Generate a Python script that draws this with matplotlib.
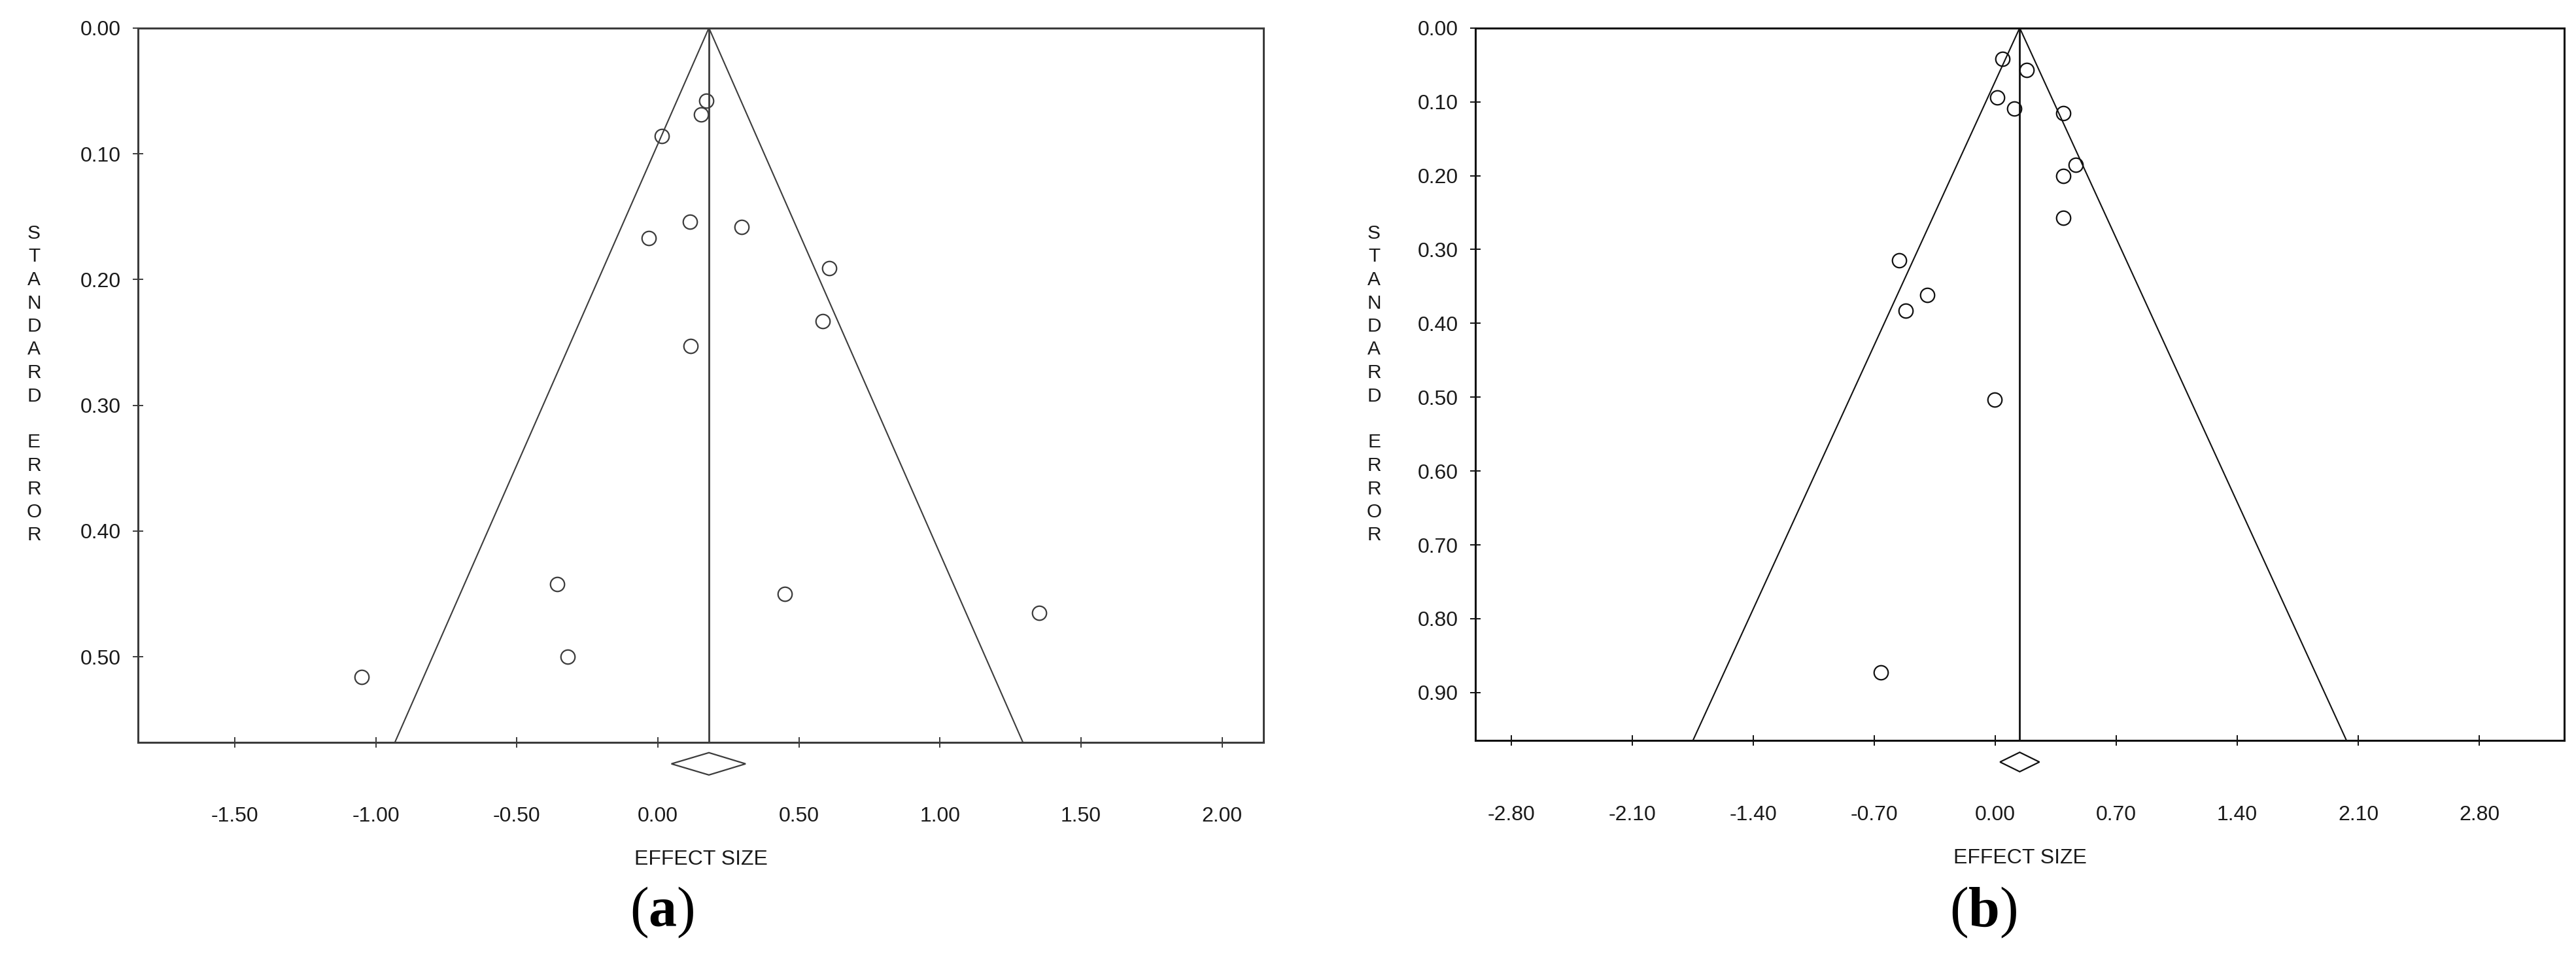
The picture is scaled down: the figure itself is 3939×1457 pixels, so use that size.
import numpy as np
import matplotlib.pyplot as plt
from matplotlib.patches import Polygon
import matplotlib.transforms as mtransforms

plt.rcParams["font.family"] = ["Liberation Sans", "DejaVu Sans"]
plt.rcParams["axes.unicode_minus"] = False
plt.rcParams["mathtext.fontset"] = "custom"
plt.rcParams["mathtext.rm"] = "Liberation Serif"
plt.rcParams["mathtext.bf"] = "Liberation Serif:bold"

# panel (a) - studies: effect size and standard error
a_effect = [0.172, 0.152, 0.013, 0.114, 0.298, -0.032, 0.608, 0.585,
            0.117, -0.357, 0.450, 1.351, -0.319, -1.050]
a_se = [0.058, 0.069, 0.086, 0.154, 0.158, 0.167, 0.191, 0.233,
        0.253, 0.442, 0.450, 0.465, 0.500, 0.516]
a_mean = 0.181
a_ci = (0.048, 0.311)
a_xticks = [-1.5, -1.0, -0.5, 0.0, 0.5, 1.0, 1.5, 2.0]
a_xlabels = ["-1.50", "-1.00", "-0.50", "0.00", "0.50", "1.00", "1.50", "2.00"]
a_yticks = [0.0, 0.1, 0.2, 0.3, 0.4, 0.5]
a_ylabels = ["0.00", "0.10", "0.20", "0.30", "0.40", "0.50"]
a_xlim = (-1.843, 2.147)
a_semax = 0.568

# panel (b)
b_effect = [0.040, 0.182, 0.011, 0.110, 0.393, 0.465, 0.393, 0.393,
            -0.556, -0.394, -0.518, -0.005, -0.661]
b_se = [0.042, 0.057, 0.094, 0.109, 0.115, 0.185, 0.200, 0.257,
        0.315, 0.362, 0.383, 0.503, 0.873]
b_mean = 0.141
b_ci = (0.027, 0.255)
b_xticks = [-2.8, -2.1, -1.4, -0.7, 0.0, 0.7, 1.4, 2.1, 2.8]
b_xlabels = ["-2.80", "-2.10", "-1.40", "-0.70", "0.00", "0.70", "1.40", "2.10", "2.80"]
b_yticks = [0.0, 0.1, 0.2, 0.3, 0.4, 0.5, 0.6, 0.7, 0.8, 0.9]
b_ylabels = ["0.00", "0.10", "0.20", "0.30", "0.40", "0.50", "0.60", "0.70", "0.80", "0.90"]
b_xlim = (-3.009, 3.292)
b_semax = 0.965

W, H = 3939, 1457
fig = plt.figure(figsize=(W / 100, H / 100), dpi=100)

panels = [
    dict(rect=[211, 42.7, 1932, 1135], effect=a_effect, se=a_se, mean=a_mean,
         ci=a_ci, xticks=a_xticks, xlabels=a_xlabels, yticks=a_yticks,
         ylabels=a_ylabels, xlim=a_xlim, semax=a_semax, color="#3c3c3c",
         dia_h=0.0156, ylab_x=52, tag="a", tag_x=1012),
    dict(rect=[2256, 42.7, 3921, 1132.3], effect=b_effect, se=b_se, mean=b_mean,
         ci=b_ci, xticks=b_xticks, xlabels=b_xlabels, yticks=b_yticks,
         ylabels=b_ylabels, xlim=b_xlim, semax=b_semax, color="#111111",
         dia_h=0.0136, ylab_x=2101, tag="b", tag_x=3033),
]

for p in panels:
    x0, y0, x1, y1 = p["rect"]
    ax = fig.add_axes([x0 / W, 1 - y1 / H, (x1 - x0) / W, (y1 - y0) / H])
    col = p["color"]
    mu = p["mean"]
    semax = p["semax"]

    # funnel (95% limits) and pooled estimate line
    ax.plot([mu - 1.96 * semax, mu, mu + 1.96 * semax], [semax, 0, semax],
            color=col, lw=1.5, solid_joinstyle="miter")
    ax.plot([mu, mu], [0, semax], color=col, lw=2.0)

    ax.plot(p["effect"], p["se"], linestyle="none", marker="o", ms=15.5,
            mfc="none", mec=col, mew=1.6)

    # pooled estimate diamond below the axis
    trans = mtransforms.blended_transform_factory(ax.transData, ax.transAxes)
    yc = -0.030
    lo, hi = p["ci"]
    dia = Polygon([[lo, yc], [mu, yc + p["dia_h"]], [hi, yc], [mu, yc - p["dia_h"]]],
                  closed=True, fill=False, edgecolor=col, lw=1.6,
                  transform=trans, clip_on=False)
    ax.add_patch(dia)

    ax.set_xlim(*p["xlim"])
    ax.set_ylim(semax, 0)
    ax.set_xticks(p["xticks"])
    ax.set_xticklabels(p["xlabels"])
    ax.set_yticks(p["yticks"])
    ax.set_yticklabels(p["ylabels"])
    ax.tick_params(axis="both", direction="inout", length=11.5, width=1.4,
                   color=col, labelsize=23, labelcolor="#1a1a1a")
    ax.tick_params(axis="x", pad=65)
    ax.tick_params(axis="y", pad=13)
    for s in ax.spines.values():
        s.set_color(col)
        s.set_linewidth(2.2)

    ax.set_xlabel("EFFECT SIZE", fontsize=23, color="#1a1a1a", labelpad=26)

    # vertical stacked y label
    for i, ch in enumerate("STANDARD ERROR"):
        fig.text(p["ylab_x"] / W, 1 - (357 + i * 35.5) / H, ch, ha="center",
                 va="center", fontsize=21.5, color="#1a1a1a")

    fig.text(p["tag_x"] / W, 1 - 1395 / H,
             r"$\mathrm{(}\mathbf{" + p["tag"] + r"}\mathrm{)}$",
             ha="center", va="center", fontsize=62, color="black")

fig.savefig("out.png", dpi=100, facecolor="white")
